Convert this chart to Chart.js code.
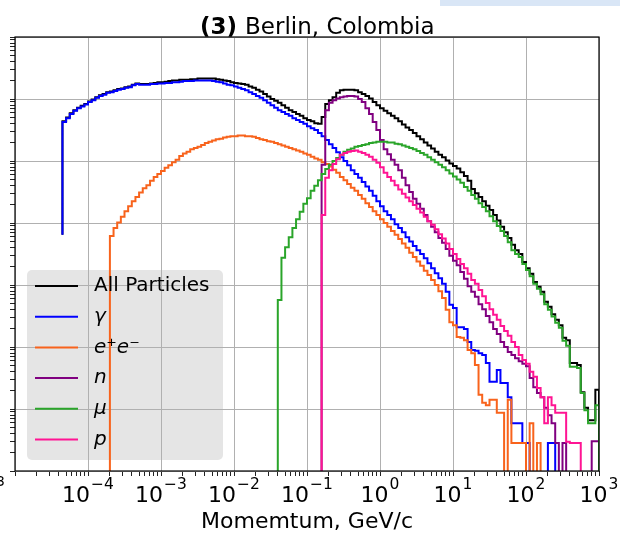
<!DOCTYPE html>
<html>
<head>
<meta charset="utf-8">
<script src="https://cdn.jsdelivr.net/npm/chart.js@4.4.1/dist/chart.umd.min.js"></script>
<style>
    html, body { margin: 0; padding: 0; background: #fff; }
</style>
</head>
<body>
<canvas id="grafico" width="620" height="535"></canvas>
<script>
// Bordes de los bins en log10(p), 20 por década de 1e-5 a 1e3 GeV/c
const bordesLog = Array.from({ length: 161 }, (_, k) => Math.round((-5 + k * 0.05) * 100) / 100);

// Décadas y etiquetas de los ejes (10 elevado al exponente)
const decadasX = [-5, -4, -3, -2, -1, 0, 1, 2, 3];
const exponentesX = ['', '−4', '−3', '−2', '−1', '0', '1', '2', '3'];
const decadasY = [0, 1, 2, 3, 4, 5, 6, 7];

// Conteos por bin en log10; null = bin vacío
// All Particles, desde el bin 13
const todasInicio = 13;
const todasBase = 3.81;
const todasLog = [
    5.64, 5.70, 5.77, 5.82, 5.86, 5.89, 5.92, 5.96, 5.99, 6.03,
    6.06, 6.08, 6.11, 6.12, 6.14, 6.16, 6.17, 6.19, 6.20, 6.23,
    6.25,
    6.24, 6.24, 6.24, 6.25, 6.26, 6.27, 6.27, 6.28, 6.29,
    6.30, 6.30, 6.31, 6.31, 6.31, 6.32, 6.32, 6.33, 6.33, 6.33,
    6.33, 6.33, 6.32, 6.31, 6.30, 6.29, 6.27, 6.26, 6.25, 6.24,
    6.23, 6.20, 6.18, 6.15, 6.12, 6.08, 6.04, 6.00, 5.97, 5.94,
    5.90, 5.86, 5.82, 5.79, 5.76, 5.73, 5.69, 5.66, 5.64, 5.61,
    5.60, 5.71, 5.92, 5.98, 6.03, 6.10, 6.14, 6.15, 6.15, 6.15,
    6.14, 6.11, 6.08, 6.05, 6.01, 5.95, 5.90, 5.85, 5.81, 5.77,
    5.73, 5.69, 5.64, 5.59, 5.54, 5.50, 5.45, 5.40, 5.35, 5.30,
    5.25, 5.20, 5.15, 5.10, 5.06, 5.01, 4.96, 4.92, 4.88, 4.82,
    4.76, 4.68, 4.55, 4.48, 4.42, 4.35, 4.28, 4.21, 4.13, 4.04,
    3.94, 3.85, 3.76, 3.65, 3.56, 3.50, 3.37, 3.27, 3.18, 3.05,
    2.97, 2.89, 2.73, 2.65, 2.53, 2.44, 2.35, 2.15, 2.11, 1.74,
    1.74, 1.71, 1.27, 1.02, 0.82, 0.82, 1.31
];

// gamma, desde el bin 13
const gammaInicio = 13;
const gammaBase = 3.81;
const gammaLog = [
    5.63, 5.69, 5.76, 5.81, 5.85, 5.88, 5.91, 5.95, 5.98, 6.02,
    6.05, 6.07, 6.10, 6.11, 6.13, 6.15, 6.16, 6.18, 6.19, 6.22,
    6.24, 6.23, 6.23, 6.23, 6.24, 6.24, 6.25, 6.25, 6.26, 6.26,
    6.27, 6.27, 6.28, 6.29, 6.29, 6.29, 6.30, 6.30, 6.30, 6.30,
    6.30, 6.29, 6.28, 6.27, 6.25, 6.23, 6.22, 6.20, 6.18, 6.16,
    6.14, 6.11, 6.08, 6.05, 6.02, 5.98, 5.94, 5.90, 5.86, 5.82,
    5.79, 5.76, 5.73, 5.69, 5.66, 5.63, 5.60, 5.56, 5.53, 5.50,
    5.45, 5.40, 5.34, 5.27, 5.21, 5.14, 5.06, 5.00, 4.93, 4.85,
    4.79, 4.73, 4.66, 4.59, 4.52, 4.44, 4.35, 4.27, 4.19, 4.13,
    4.06, 3.98, 3.92, 3.85, 3.77, 3.70, 3.63, 3.56, 3.50, 3.43,
    3.35, 3.27, 3.19, 3.11, 3.02, 2.89, 2.68, 2.63, 2.32, 2.32,
    2.29, 2.08, 1.95, 1.94, 1.90, 1.87, 1.74, 1.44, 1.44, 1.63,
    1.42, 1.42, 1.19, 0.77, 0.77, 0.77, 0.45, 0.45, null, null,
    null, null, null, 0.45, 0.45
];

// e+e-, desde el bin 26
const eeInicio = 26;
const eeLog = [
    3.79, 3.92, 4.01, 4.10, 4.19, 4.27, 4.35, 4.42, 4.49, 4.56,
    4.61, 4.68, 4.74, 4.79, 4.84, 4.89, 4.93, 4.98, 5.02, 5.08,
    5.12, 5.15, 5.19, 5.21, 5.23, 5.26, 5.29, 5.31, 5.33, 5.35,
    5.36, 5.38, 5.39, 5.40, 5.40, 5.41, 5.41, 5.40, 5.40, 5.39,
    5.37, 5.35, 5.34, 5.32, 5.31, 5.29, 5.27, 5.25, 5.23, 5.21,
    5.19, 5.17, 5.15, 5.12, 5.10, 5.07, 5.04, 5.02, 4.98, 4.95,
    4.91, 4.86, 4.81, 4.74, 4.69, 4.63, 4.57, 4.52, 4.45, 4.39,
    4.32, 4.26, 4.19, 4.13, 4.06, 4.00, 3.94, 3.87, 3.81, 3.74,
    3.67, 3.60, 3.52, 3.45, 3.38, 3.31, 3.23, 3.16, 3.08, 3.00,
    2.90, 2.79, 2.60, 2.40, 2.35, 2.16, 2.15, 2.11, 1.95, 1.90,
    1.71, 1.23, 1.10, 1.06, 1.15, 1.15, 0.94, 0.94, null, 1.15,
    0.45, 0.45, 0.45, 0.45, null, 0.77, null, 0.45
];

// neutrones, desde el bin 84
const nInicio = 84;
const nLog = [
    4.94, 5.82, 5.94, 5.98, 6.01, 6.03, 6.04, 6.05, 6.05, 6.04,
    6.00, 5.95, 5.85, 5.76, 5.63, 5.50, 5.34, 5.19, 5.11, 5.02,
    4.94, 4.85, 4.73, 4.61, 4.50, 4.39, 4.31, 4.23, 4.13, 4.03,
    3.94, 3.85, 3.76, 3.68, 3.58, 3.47, 3.39, 3.32, 3.21, 3.10,
    2.98, 2.89, 2.81, 2.69, 2.61, 2.50, 2.40, 2.29, 2.21, 2.08,
    2.00, 1.92, 1.87, 1.82, 1.77, 1.73, 1.69, 1.50, 1.35, 1.26,
    1.19, 1.02, 0.90, 0.77, 0.45, null, 0.45, null, null, null,
    null, null, null, null, 0.48, 0.48
];

// muones, desde el bin 72
const muInicio = 72;
const muLog = [
    2.76, 3.44, 3.61, 3.77, 3.92, 4.06, 4.18, 4.31, 4.40, 4.52,
    4.60, 4.69, 4.79, 4.87, 4.94, 5.00, 5.05, 5.10, 5.15, 5.18,
    5.20, 5.23, 5.24, 5.26, 5.27, 5.29, 5.30, 5.31, 5.31, 5.31,
    5.30, 5.30, 5.28, 5.27, 5.25, 5.23, 5.21, 5.19, 5.16, 5.13,
    5.10, 5.06, 5.02, 4.98, 4.94, 4.90, 4.85, 4.80, 4.75, 4.70,
    4.65, 4.58, 4.52, 4.45, 4.39, 4.32, 4.26, 4.19, 4.11, 4.03,
    3.95, 3.87, 3.79, 3.69, 3.56, 3.50, 3.45, 3.34, 3.24, 3.14,
    3.02, 2.94, 2.85, 2.69, 2.60, 2.49, 2.39, 2.31, 2.10, 2.02,
    1.68, 1.68, 1.66, 1.26, 0.98, 0.77, 0.77, 1.06
];

// protones, desde el bin 84
const pInicio = 84;
const pLog = [
    4.13, 4.73, 4.85, 4.95, 5.03, 5.10, 5.13, 5.15, 5.16, 5.17,
    5.15, 5.13, 5.10, 5.07, 5.02, 4.97, 4.90, 4.81, 4.74, 4.68,
    4.61, 4.54, 4.47, 4.41, 4.35, 4.29, 4.23, 4.17, 4.10, 4.03,
    3.97, 3.90, 3.82, 3.75, 3.67, 3.58, 3.50, 3.42, 3.34, 3.27,
    3.18, 3.08, 3.02, 2.92, 2.82, 2.71, 2.61, 2.52, 2.44, 2.34,
    2.26, 2.18, 2.08, 2.00, 1.87, 1.79, 1.73, 1.60, 1.52, 1.34,
    1.19, 0.77, 1.19, 1.06, 0.94, 0.94, 0.94, 0.47, 0.45, 0.45,
    0.45
];

const etiquetas = ['All Particles', 'γ', 'e⁺e⁻', 'n', 'μ', 'p'];
const colores = ['#000000', '#0000ff', '#f8631c', '#800080', '#2aa52a', '#ff1493'];

const PISO = 1e-2; // debajo del eje: los bins vacíos caen al borde

// Puntos del histograma tipo "step"
function histoPuntos(inicio, valores, base) {
    const pts = [{ x: Math.pow(10, bordesLog[inicio]), y: base == null ? PISO : Math.pow(10, base) }];
    valores.forEach((v, i) => {
        pts.push({ x: Math.pow(10, bordesLog[inicio + i]), y: v == null ? PISO : Math.pow(10, v) });
    });
    pts.push({ x: Math.pow(10, bordesLog[inicio + valores.length]), y: PISO });
    return pts;
}

const series = [
    histoPuntos(todasInicio, todasLog, todasBase),
    histoPuntos(gammaInicio, gammaLog, gammaBase),
    histoPuntos(eeInicio, eeLog, null),
    histoPuntos(nInicio, nLog, null),
    histoPuntos(muInicio, muLog, null),
    histoPuntos(pInicio, pLog, null)
];

// Ticks mayores en décadas y menores 2..9
function ticksLog(decadas) {
    const ticks = [];
    decadas.forEach((d, i) => {
        ticks.push({ value: Math.pow(10, d), major: true });
        if (i < decadas.length - 1) {
            for (let m = 2; m <= 9; m++) ticks.push({ value: m * Math.pow(10, d), major: false });
        }
    });
    return ticks;
}

const fuente = '"DejaVu Sans", sans-serif';

const decoracion = {
    id: 'decoracion',
    beforeDraw(chart) {
        const c = chart.ctx;
        c.save();
        c.fillStyle = '#fff';
        c.fillRect(0, 0, chart.width, chart.height);
        c.fillStyle = '#d9e6f6';
        c.fillRect(440, 0, 180, 6);
        // fondo de la leyenda (debajo de la rejilla)
        c.fillStyle = '#e5e5e5';
        c.beginPath();
        c.roundRect(27, 270, 196, 190, 5);
        c.fill();
        c.restore();
    },
    afterDatasetsDraw(chart) {
        const c = chart.ctx;
        const a = chart.chartArea;
        c.save();
        c.strokeStyle = '#000';
        c.lineWidth = 1.2;
        c.strokeRect(a.left, a.top, a.right - a.left, a.bottom - a.top);
        // leyenda
        c.textBaseline = 'middle';
        etiquetas.forEach((t, i) => {
            const y = 286 + i * 30.7;
            c.strokeStyle = colores[i];
            c.lineWidth = 2;
            c.beginPath();
            c.moveTo(35, y);
            c.lineTo(78, y);
            c.stroke();
            c.fillStyle = '#000';
            c.font = (i === 0 ? '' : 'italic ') + '20px ' + fuente;
            c.fillText(t, 94, y);
        });
        c.restore();
    },
    afterDraw(chart) {
        const c = chart.ctx;
        c.save();
        c.fillStyle = '#000';
        c.textBaseline = 'alphabetic';
        // etiquetas del eje x: 10 con exponente
        const xs = chart.scales.x;
        decadasX.forEach((d, i) => {
            const exp = exponentesX[i];
            if (!exp) return;
            const px = xs.getPixelForValue(Math.pow(10, d));
            c.font = '22px ' + fuente;
            const wb = c.measureText('10').width;
            c.font = '15.5px ' + fuente;
            const we = c.measureText(exp).width;
            const x0 = px - (wb + 1 + we) / 2;
            c.font = '22px ' + fuente;
            c.fillText('10', x0, 502);
            c.font = '15.5px ' + fuente;
            c.fillText(exp, x0 + wb + 1, 489);
        });
        // titulo
        c.font = 'bold 23px ' + fuente;
        const num = '(3)';
        c.fillText(num, 200, 34);
        const w = c.measureText(num + ' ').width;
        c.font = '23px ' + fuente;
        c.fillText('Berlin, Colombia', 200 + w, 34);
        // resto de la etiqueta del panel vecino
        c.font = '14px ' + fuente;
        c.textAlign = 'right';
        c.fillText('3', 5, 486);
        c.restore();
    }
};

const ctx = document.getElementById('grafico').getContext('2d');
const chart = new Chart(ctx, {
    type: 'line',
    data: {
        datasets: series.map((pts, i) => ({
            label: etiquetas[i],
            data: pts,
            borderColor: colores[i],
            borderWidth: 2,
            stepped: true,
            fill: false,
            pointRadius: 0,
            order: 6 - i
        }))
    },
    options: {
        responsive: false,
        animation: false,
        layout: { padding: { top: 37, right: 21, left: 10, bottom: 0 } },
        plugins: {
            legend: { display: false },
            title: { display: false },
            tooltip: { enabled: false }
        },
        scales: {
            x: {
                type: 'logarithmic',
                min: 1e-5,
                max: 1e3,
                afterBuildTicks: s => { s.ticks = ticksLog(decadasX); },
                afterFit: s => { s.height = 64; },
                border: { display: false },
                grid: {
                    color: c => (c.tick && c.tick.major ? '#b0b0b0' : 'rgba(0,0,0,0)'),
                    tickColor: '#222',
                    tickLength: 5
                },
                ticks: {
                    autoSkip: false,
                    maxRotation: 0,
                    callback: () => ''
                },
                title: {
                    display: true,
                    text: 'Momemtum, GeV/c',
                    color: '#000',
                    font: { family: fuente, size: 22 },
                    padding: { top: 0, bottom: 0 }
                }
            },
            y: {
                type: 'logarithmic',
                min: 1,
                max: 1e7,
                afterBuildTicks: s => { s.ticks = ticksLog(decadasY); },
                afterFit: s => { s.width = 5; },
                border: { display: false },
                grid: {
                    color: c => (c.tick && c.tick.major ? '#b0b0b0' : 'rgba(0,0,0,0)'),
                    tickColor: '#222',
                    tickLength: 5
                },
                ticks: { display: false, autoSkip: false }
            }
        }
    },
    plugins: [decoracion]
});
</script>
</body>
</html>
